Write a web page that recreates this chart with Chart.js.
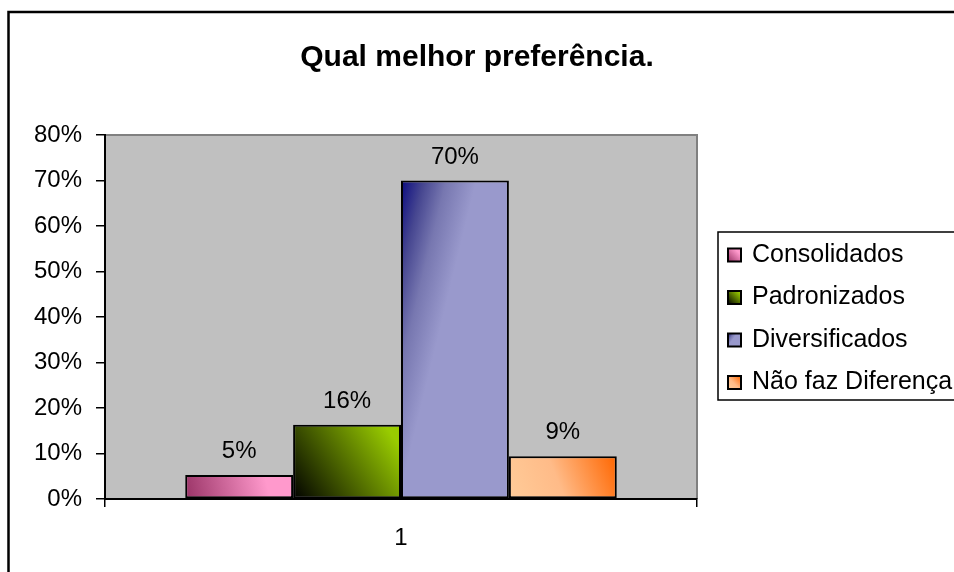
<!DOCTYPE html>
<html>
<head>
<meta charset="utf-8">
<script src="https://cdn.jsdelivr.net/npm/chart.js@4/dist/chart.umd.min.js"></script>
<style>
  html, body { margin: 0; padding: 0; background: #fff; }
  #wrap { width: 954px; height: 572px; }
</style>
</head>
<body>
<div id="wrap"><canvas id="chart" width="954" height="572"></canvas></div>
<script>
// chart data
const categories = ['1'];
const seriesNames = ['Consolidados', 'Padronizados', 'Diversificados', 'Não faz Diferença'];
const seriesValues = [0.053, 0.163, 0.70, 0.094];
const valueLabels = ['5%', '16%', '70%', '9%'];
const yTicks = [0, 0.1, 0.2, 0.3, 0.4, 0.5, 0.6, 0.7, 0.8];

const FONT = "'Liberation Sans', Arial, sans-serif";
const CAT_PCT = 0.729;

// Excel-like two colour gradients, built per bar box
function makeGradient(ctx, idx, b) {
    const w = b.right - b.left, h = b.bottom - b.top;
    let g;
    if (idx === 2) {
        // dark corner at top-left
        const wp = 0.7 * w, hp = 0.97 * h;
        const d = wp * wp + hp * hp;
        g = ctx.createLinearGradient(b.left, b.top, b.left + wp * hp * hp / d, b.top + wp * wp * hp / d);
        g.addColorStop(0, '#0a0a80');
        g.addColorStop(0.3, '#464690');
        g.addColorStop(0.6, '#7777b0');
        g.addColorStop(1, '#9999cc');
        return g;
    }
    g = ctx.createLinearGradient(b.left, b.bottom, b.right, b.top);
    if (idx === 0) {
        g.addColorStop(0, '#993366');
        g.addColorStop(0.75, '#ff99cc');
        g.addColorStop(1, '#ff99cc');
    } else if (idx === 1) {
        g.addColorStop(0, '#000000');
        g.addColorStop(0.9, '#99cc00');
        g.addColorStop(1, '#99cc00');
    } else {
        g.addColorStop(0, '#ffcc99');
        g.addColorStop(0.45, '#ffbb88');
        g.addColorStop(1, '#ff6600');
    }
    return g;
}

const fallback = ['#ff99cc', '#99cc00', '#9999cc', '#ffcc99'];

function barFill(context) {
    const chart = context.chart;
    const area = chart.chartArea;
    const i = context.datasetIndex;
    if (!area || !chart.scales.y) return fallback[i];
    const groupW = (area.right - area.left) * CAT_PCT;
    const barW = groupW / seriesNames.length;
    const left = (area.left + area.right) / 2 - groupW / 2 + i * barW;
    const box = {
        left: left,
        right: left + barW,
        top: chart.scales.y.getPixelForValue(seriesValues[i]),
        bottom: chart.scales.y.getPixelForValue(0)
    };
    return makeGradient(chart.ctx, i, box);
}

const datasets = seriesNames.map((name, i) => ({
    label: name,
    data: [seriesValues[i]],
    backgroundColor: barFill,
    borderColor: '#000000',
    borderWidth: 2,
    borderSkipped: false,
    barPercentage: 1,
    categoryPercentage: CAT_PCT
}));

// gray plot area and outer frame
const backdrop = {
    id: 'backdrop',
    beforeDraw(chart) {
        const c = chart.ctx, a = chart.chartArea;
        c.save();
        c.fillStyle = '#ffffff';
        c.fillRect(0, 0, chart.width, chart.height);
        c.strokeStyle = '#000000';
        c.lineWidth = 2.5;
        c.strokeRect(8.5, 12, 1200, 1200);
        c.fillStyle = '#c0c0c0';
        c.fillRect(a.left, a.top, a.right - a.left, a.bottom - a.top);
        c.strokeStyle = '#808080';
        c.lineWidth = 2;
        c.beginPath();
        c.moveTo(a.left, a.top);
        c.lineTo(a.right, a.top);
        c.lineTo(a.right, a.bottom);
        c.stroke();
        c.restore();
    }
};

// percentage labels above each bar
const valueText = {
    id: 'valueText',
    afterDatasetsDraw(chart) {
        const c = chart.ctx;
        c.save();
        c.font = '24px ' + FONT;
        c.fillStyle = '#000000';
        c.textAlign = 'center';
        c.textBaseline = 'alphabetic';
        chart.data.datasets.forEach((ds, i) => {
            const bar = chart.getDatasetMeta(i).data[0];
            c.fillText(valueLabels[i], bar.x, bar.y - 17);
        });
        c.restore();
    }
};

// boxed legend on the right, cut off by the canvas edge
const boxLegend = {
    id: 'boxLegend',
    afterDraw(chart) {
        const c = chart.ctx;
        const top = 232, rowH = 42.5, x0 = 718;
        c.save();
        c.strokeStyle = '#000000';
        c.lineWidth = 1.5;
        c.strokeRect(x0, top, 400, 168);
        c.font = '25px ' + FONT;
        c.textBaseline = 'middle';
        c.textAlign = 'left';
        chart.data.datasets.forEach((ds, i) => {
            const cy = top + 23 + i * rowH;
            const box = { left: 728, right: 741, top: cy - 6.5, bottom: cy + 6.5 };
            c.fillStyle = makeGradient(c, i, box);
            c.fillRect(box.left, box.top, 13, 13);
            c.lineWidth = 2;
            c.strokeRect(box.left, box.top, 13, 13);
            c.fillStyle = '#000000';
            c.fillText(ds.label, 752, cy);
        });
        c.restore();
    }
};

new Chart(document.getElementById('chart'), {
    type: 'bar',
    data: { labels: categories, datasets: datasets },
    plugins: [backdrop, valueText, boxLegend],
    options: {
        responsive: false,
        animation: false,
        layout: { padding: 0 },
        plugins: {
            legend: { display: false },
            tooltip: { enabled: false },
            title: {
                display: true,
                text: 'Qual melhor preferência.',
                color: '#000000',
                font: { family: FONT, size: 30, weight: 'bold' },
                padding: { top: 40, bottom: 59 }
            }
        },
        scales: {
            x: {
                afterFit(scale) { scale.height = 73; },
                grid: {
                    offset: true,
                    drawOnChartArea: false,
                    tickLength: 8,
                    color: '#000000',
                    lineWidth: 1.5
                },
                border: { color: '#000000', width: 2 },
                ticks: {
                    color: '#000000',
                    padding: 17,
                    font: { family: FONT, size: 24 }
                }
            },
            y: {
                min: 0,
                max: 0.8,
                afterFit(scale) { scale.width = 105; },
                afterBuildTicks(scale) { scale.ticks = yTicks.map(v => ({ value: v })); },
                grid: {
                    drawOnChartArea: false,
                    tickLength: 9,
                    color: '#000000',
                    lineWidth: 1.5
                },
                border: { color: '#000000', width: 2 },
                ticks: {
                    color: '#000000',
                    padding: 14,
                    font: { family: FONT, size: 24 },
                    callback: v => Math.round(v * 100) + '%'
                }
            },
            // empty right axis that only reserves the legend's space
            side: {
                type: 'linear',
                position: 'right',
                afterFit(scale) { scale.width = 257; },
                grid: { display: false },
                border: { display: false },
                ticks: { display: false }
            }
        }
    }
});
</script>
</body>
</html>
